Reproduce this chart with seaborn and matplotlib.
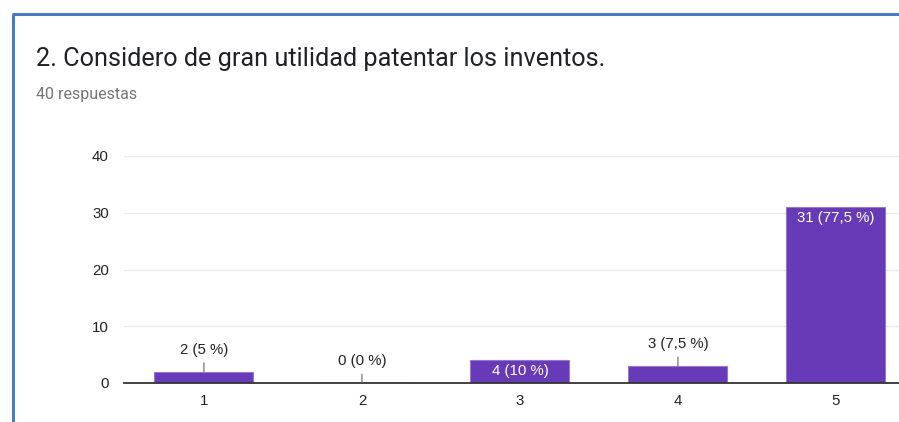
import matplotlib
matplotlib.use('Agg')
import matplotlib.pyplot as plt
import seaborn as sns
import pandas as pd
from matplotlib.lines import Line2D

categories = ['1', '2', '3', '4', '5']
counts = [2, 0, 4, 3, 31]
pct_labels = ['2 (5 %)', '0 (0 %)', '4 (10 %)', '3 (7,5 %)', '31 (77,5 %)']
title = '2. Considero de gran utilidad patentar los inventos.'
subtitle = '40 respuestas'
yticks = [0, 10, 20, 30, 40]

df = pd.DataFrame({'opcion': categories, 'n': counts})

sns.set_theme(style='white')
plt.rcParams['font.family'] = ['Liberation Sans', 'DejaVu Sans']

fig = plt.figure(figsize=(8.99, 4.22), dpi=100)
ax = fig.add_axes([124 / 899, 1 - 383 / 422, 1 - 124 / 899, (383 - 156) / 422])

sns.barplot(data=df, x='opcion', y='n', color='#673ab7', width=0.627,
            edgecolor='#9575cd', linewidth=0.8, saturation=1, ax=ax)

ax.set_ylim(0, 40)
ax.set_xlim(-0.506, 4.399)
ax.set_yticks(yticks)
ax.grid(axis='y', color='#ebebeb', linewidth=1)
ax.set_axisbelow(True)
for s in ['left', 'right', 'top']:
    ax.spines[s].set_visible(False)
ax.spines['bottom'].set_color('#333333')
ax.spines['bottom'].set_linewidth(1.3)
ax.set_xlabel('')
ax.set_ylabel('')
ax.tick_params(axis='both', length=0, labelsize=10.8, labelcolor='#222222')
ax.tick_params(axis='y', pad=11)
ax.tick_params(axis='x', pad=8)

for i, (v, lab) in enumerate(zip(counts, pct_labels)):
    if v >= 4:
        ax.annotate(lab, xy=(i, v), xytext=(0, -4), textcoords='offset pixels',
                    ha='center', va='top', color='white', fontsize=10.8)
    else:
        ax.annotate(lab, xy=(i, v), xytext=(0, 22), textcoords='offset pixels',
                    ha='center', va='center', color='#222222', fontsize=10.8,
                    arrowprops=dict(arrowstyle='-', color='#666666', lw=0.8,
                                    shrinkA=2, shrinkB=0))

fig.text(36 / 899, 1 - 59 / 422, title, fontsize=18.2, family='Roboto',
         color='#202124', va='center', ha='left')
fig.text(36 / 899, 1 - 94 / 422, subtitle, fontsize=11.5, family='Roboto',
         color='#757575', va='center', ha='left')

# blue frame of the card
fig.add_artist(Line2D([13 / 899, 13 / 899], [0, 1 - 14 / 422], color='#4a7bc0',
                      lw=2.2, transform=fig.transFigure, solid_capstyle='butt'))
fig.add_artist(Line2D([12 / 899, 1], [1 - 14 / 422, 1 - 14 / 422], color='#4a7bc0',
                      lw=2.2, transform=fig.transFigure, solid_capstyle='butt'))

plt.savefig('out.png', dpi=100)
plt.close()
